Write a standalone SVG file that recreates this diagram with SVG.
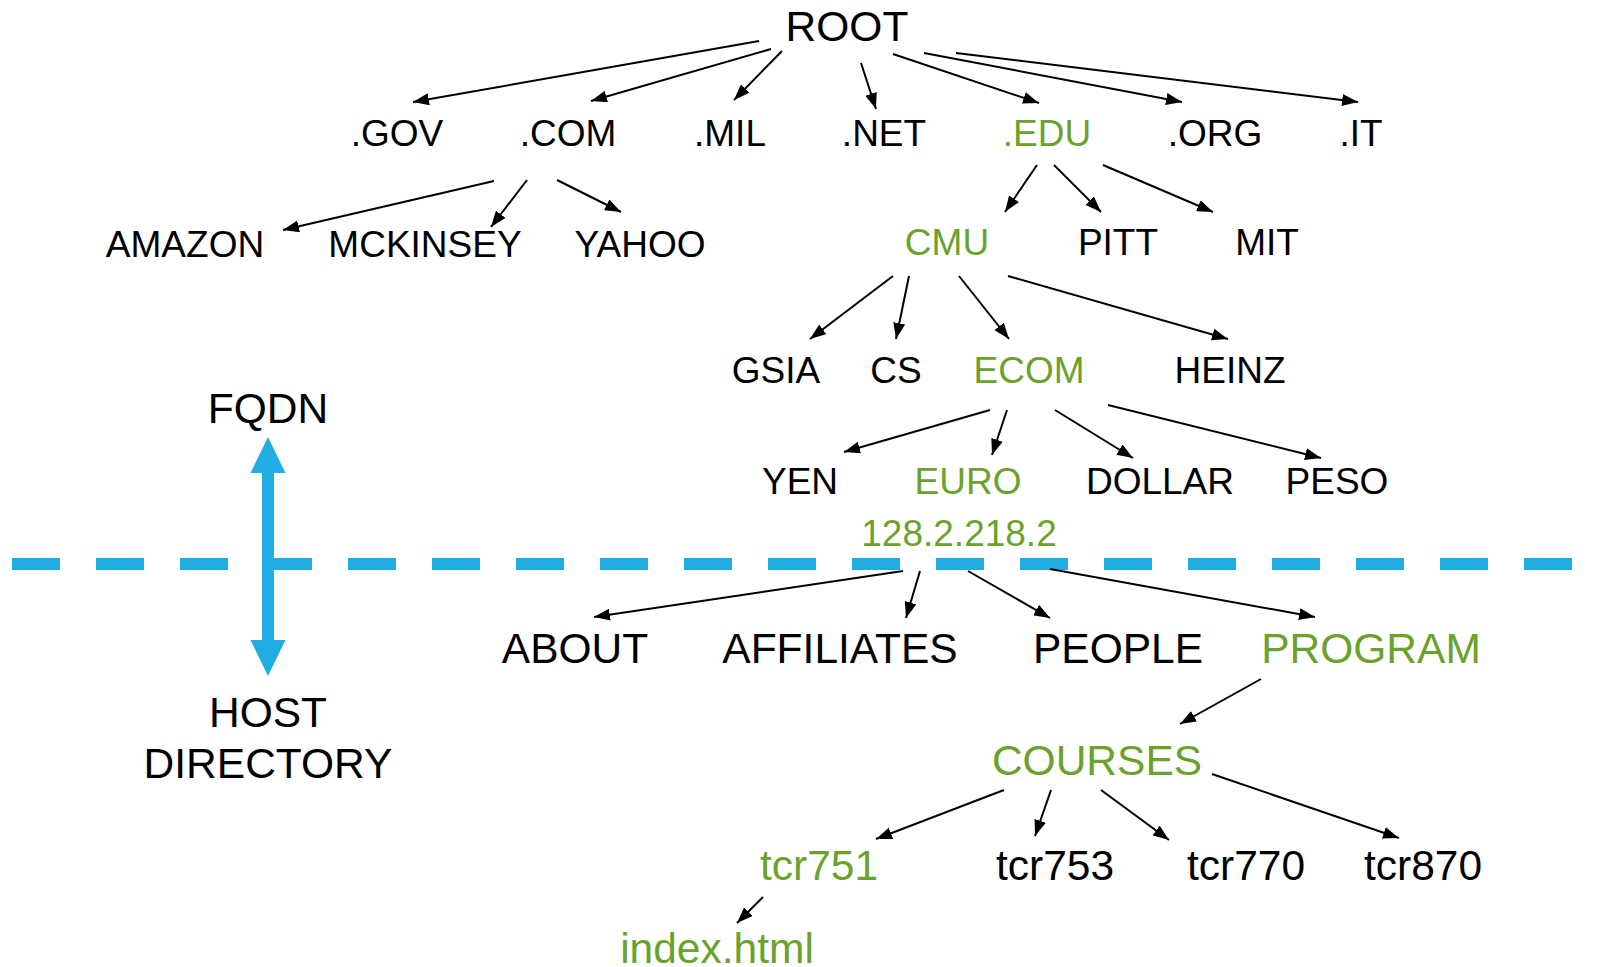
<svg xmlns="http://www.w3.org/2000/svg" width="1598" height="967" viewBox="0 0 1598 967">
<defs>
<style>
text{font-family:"Liberation Sans",Arial,sans-serif;text-anchor:middle;fill:#000}
.s{font-size:37px}
.l{font-size:42.5px}
.g{fill:#6AA22C}
.c line{stroke:#000;stroke-width:2;marker-end:url(#ah)}
</style>
<marker id="ah" markerUnits="userSpaceOnUse" viewBox="0 0 16 12" refX="16" refY="6" markerWidth="16" markerHeight="12" orient="auto">
<path d="M0,0 L16,6 L0,12 z" fill="#000"/>
</marker>
</defs>
<rect width="1598" height="967" fill="#fff"/>
<g id="divider">
<line x1="12" y1="564" x2="1598" y2="564" stroke="#1FADE4" stroke-width="12" stroke-dasharray="48 36"/>
</g>
<g id="scale-arrow">
<rect x="262" y="470" width="12" height="173" fill="#1FADE4"/>
<path d="M268,437 L285.5,473 L250.5,473 z" fill="#1FADE4"/>
<path d="M268,676 L285.5,640 L250.5,640 z" fill="#1FADE4"/>
</g>
<g id="connectors" class="c">
<line x1="759" y1="41" x2="413" y2="102"/>
<line x1="771" y1="49" x2="591" y2="101"/>
<line x1="782" y1="51" x2="734" y2="100"/>
<line x1="861" y1="63" x2="876" y2="109"/>
<line x1="893" y1="54" x2="1039" y2="103"/>
<line x1="924" y1="53" x2="1182" y2="102"/>
<line x1="956" y1="53" x2="1358" y2="102"/>
<line x1="494" y1="181" x2="283" y2="230"/>
<line x1="527" y1="180" x2="491" y2="227"/>
<line x1="557" y1="180" x2="621" y2="212"/>
<line x1="1037" y1="165" x2="1005" y2="212"/>
<line x1="1054" y1="165" x2="1101" y2="212"/>
<line x1="1103" y1="165" x2="1213" y2="212"/>
<line x1="893" y1="276" x2="810" y2="339"/>
<line x1="909" y1="276" x2="896" y2="339"/>
<line x1="959" y1="276" x2="1009" y2="339"/>
<line x1="1008" y1="276" x2="1228" y2="339"/>
<line x1="990" y1="410" x2="844" y2="452"/>
<line x1="1007" y1="410" x2="992" y2="455"/>
<line x1="1055" y1="410" x2="1133" y2="458"/>
<line x1="1108" y1="405" x2="1321" y2="458"/>
<line x1="903" y1="571" x2="594" y2="617"/>
<line x1="920" y1="571" x2="906" y2="618"/>
<line x1="968" y1="571" x2="1050" y2="618"/>
<line x1="1050" y1="569" x2="1315" y2="617"/>
<line x1="1261" y1="679" x2="1180" y2="724"/>
<line x1="1004" y1="790" x2="876" y2="839"/>
<line x1="1051" y1="790" x2="1035" y2="836"/>
<line x1="1101" y1="790" x2="1169" y2="840"/>
<line x1="1212" y1="774" x2="1399" y2="838"/>
<line x1="763" y1="897" x2="737" y2="923"/>
</g>
<g id="n-root"><text class="l" x="847" y="41">ROOT</text></g>
<g id="n-gov"><text class="s" x="397" y="146">.GOV</text></g>
<g id="n-com"><text class="s" x="568" y="146">.COM</text></g>
<g id="n-mil"><text class="s" x="730" y="146">.MIL</text></g>
<g id="n-net"><text class="s" x="884" y="146">.NET</text></g>
<g id="n-edu"><text class="s g" x="1047" y="146">.EDU</text></g>
<g id="n-org"><text class="s" x="1215" y="146">.ORG</text></g>
<g id="n-it"><text class="s" x="1361" y="146">.IT</text></g>
<g id="n-amazon"><text class="s" x="185" y="257">AMAZON</text></g>
<g id="n-mckinsey"><text class="s" x="425" y="257">MCKINSEY</text></g>
<g id="n-yahoo"><text class="s" x="640" y="257">YAHOO</text></g>
<g id="n-cmu"><text class="s g" x="947" y="255">CMU</text></g>
<g id="n-pitt"><text class="s" x="1118" y="255">PITT</text></g>
<g id="n-mit"><text class="s" x="1267" y="255">MIT</text></g>
<g id="n-gsia"><text class="s" x="776" y="383">GSIA</text></g>
<g id="n-cs"><text class="s" x="896" y="383">CS</text></g>
<g id="n-ecom"><text class="s g" x="1029" y="383">ECOM</text></g>
<g id="n-heinz"><text class="s" x="1230" y="383">HEINZ</text></g>
<g id="n-yen"><text class="s" x="800" y="494">YEN</text></g>
<g id="n-euro"><text class="s g" x="968" y="494">EURO</text></g>
<g id="n-dollar"><text class="s" x="1160" y="494">DOLLAR</text></g>
<g id="n-peso"><text class="s" x="1337" y="494">PESO</text></g>
<g id="n-ip"><text class="s g" x="959" y="546">128.2.218.2</text></g>
<g id="n-fqdn"><text class="l" x="268" y="423">FQDN</text></g>
<g id="n-host"><text class="l" x="268" y="727">HOST</text><text class="l" x="268" y="778">DIRECTORY</text></g>
<g id="n-about"><text class="l" x="575" y="663">ABOUT</text></g>
<g id="n-affiliates"><text class="l" x="840" y="663">AFFILIATES</text></g>
<g id="n-people"><text class="l" x="1118" y="663">PEOPLE</text></g>
<g id="n-program"><text class="l g" x="1371" y="663">PROGRAM</text></g>
<g id="n-courses"><text class="l g" x="1097" y="775">COURSES</text></g>
<g id="n-tcr751"><text class="l g" x="819" y="880">tcr751</text></g>
<g id="n-tcr753"><text class="l" x="1055" y="880">tcr753</text></g>
<g id="n-tcr770"><text class="l" x="1246" y="880">tcr770</text></g>
<g id="n-tcr870"><text class="l" x="1423" y="880">tcr870</text></g>
<g id="n-index"><text class="l g" x="717" y="963">index.html</text></g>
</svg>
